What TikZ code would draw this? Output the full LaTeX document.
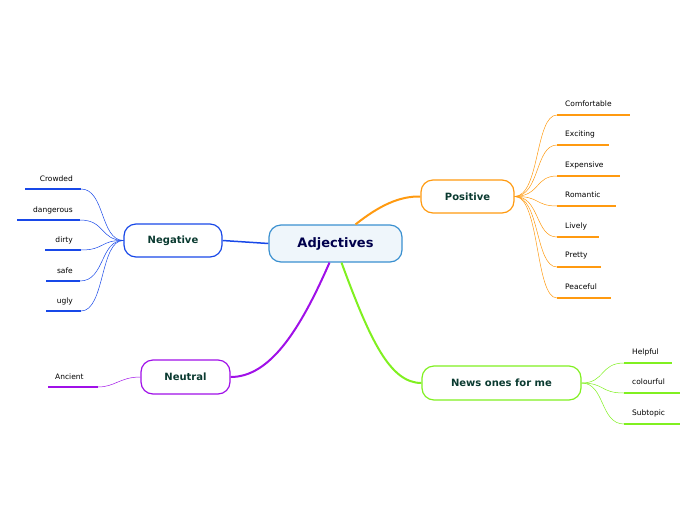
\documentclass[tikz,border=0pt]{standalone}
\usepackage{fontspec}
\setmainfont{DejaVu Sans}
\definecolor{cpos}{HTML}{FF9A10}
\definecolor{cneg}{HTML}{1848E8}
\definecolor{cneu}{HTML}{A010E8}
\definecolor{cnew}{HTML}{80F020}
\definecolor{cmain}{HTML}{3A90D0}
\definecolor{txt}{HTML}{0A3A30}
\begin{document}
\begin{tikzpicture}[x=1pt,y=-1pt,
  topic/.style={draw,line width=1.2pt,rounded corners=12pt,font=\fontsize{10}{12}\selectfont\bfseries,text=txt,inner sep=0pt},
  leaf/.style={font=\fontsize{7.5}{9}\selectfont,inner sep=0pt}]
\useasboundingbox (0,0) rectangle (696,520);
\node[topic,draw=cmain,fill=cmain!8,minimum width=133pt,minimum height=37pt,font=\fontsize{13}{15}\selectfont\bfseries,text=blue!30!black] (adj) at (335.5,243.5) {Adjectives};
\node[topic,draw=cpos,minimum width=93pt,minimum height=33pt] (pos) at (467.5,196.5) {Positive};
\node[topic,draw=cneg,minimum width=98pt,minimum height=33pt] (neg) at (173,240.5) {Negative};
\node[topic,draw=cneu,minimum width=89pt,minimum height=34pt] (neu) at (185.5,377) {Neutral};
\node[topic,draw=cnew,minimum width=159pt,minimum height=34pt] (new) at (501.5,383) {News ones for me};
% main connectors
\draw[cpos,line width=2pt] (adj.north)++(20,0) coordinate(a1) .. controls (380,205) and (400,196) .. (pos.west);
\draw[cneg,line width=1.5pt] (adj.west) -- (neg.east);
\draw[cneu,line width=2pt] (adj.south)++(-6,0) coordinate(a2) .. controls (300,330) and (270,377) .. (neu.east);
\draw[cnew,line width=2pt] (adj.south)++(6,0) coordinate(a3) .. controls (370,340) and (390,383) .. (new.west);
% positive leaves
\foreach \t/\y/\w [count=\i] in {Comfortable/104/630,Exciting/134/609,Expensive/165/620,Romantic/195/616,Lively/226/599,Pretty/256/601,Peaceful/287/611}{
  \node[leaf,anchor=west] (p\i) at (565,\y) {\t};
  \coordinate (pu\i) at (557,\y+11);
  \coordinate (pe\i) at (\w,\y+11);
  \draw[cpos,line width=1.5pt] (pu\i) -- (pe\i);
  \draw[cpos,line width=0.5pt] (pos.east) .. controls (540,196) and (535,\y+11) .. (pu\i);
}
% negative leaves
\foreach \t/\y/\l/\r [count=\i] in {Crowded/179/25/81,dangerous/210/17/80,dirty/240/45/81,safe/271/46/80,ugly/301/46/81}{
  \node[leaf,anchor=east] (n\i) at (73,\y) {\t};
  \coordinate (nu\i) at (\r,\y+10);
  \coordinate (ne\i) at (\l,\y+10);
  \draw[cneg,line width=1.5pt] (ne\i) -- (nu\i);
  \draw[cneg,line width=0.5pt] (neg.west) .. controls (100,240) and (105,\y+10) .. (nu\i);
}
% neutral leaf
\node[leaf,anchor=west] (u1) at (55,377) {Ancient};
\coordinate (uu1) at (98,387); \coordinate (ue1) at (48,387);
\draw[cneu,line width=1.5pt] (ue1) -- (uu1);
\draw[cneu,line width=0.5pt] (neu.west) .. controls (120,377) and (115,387) .. (uu1);
% news leaves
\foreach \t/\y/\w [count=\i] in {Helpful/352/672,colourful/382/680,Subtopic/413/680}{
  \node[leaf,anchor=west] (w\i) at (632,\y) {\t};
  \coordinate (wu\i) at (624,\y+11);
  \coordinate (we\i) at (\w,\y+11);
  \draw[cnew,line width=1.5pt] (wu\i) -- (we\i);
  \draw[cnew,line width=0.5pt] (new.east) .. controls (605,383) and (600,\y+11) .. (wu\i);
}
\end{tikzpicture}
\end{document}
